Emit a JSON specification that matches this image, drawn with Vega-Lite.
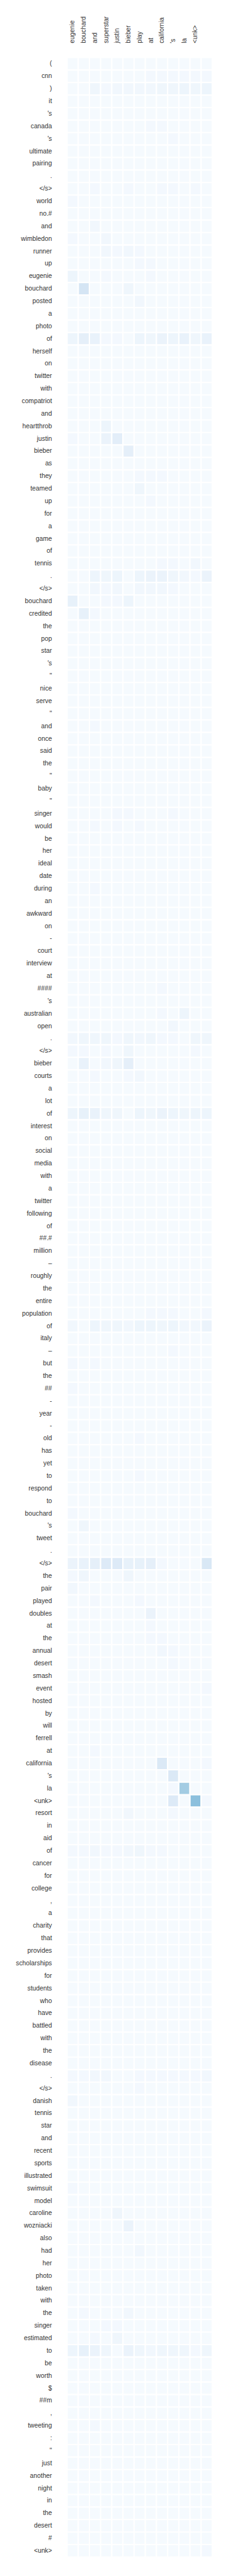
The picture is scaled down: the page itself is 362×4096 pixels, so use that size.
{
"$schema":"https://vega.github.io/schema/vega-lite/v6.json",
"width":230.6,"height":3974.4,
"autosize":{"type":"none"},
"padding":{"left":106.5,"top":91.5,"right":25,"bottom":30},
"background":"white",
"config":{"view":{"stroke":null},"axis":{"labelFont":"Liberation Sans","labelFontSize":10.3,"labelColor":"#333333","ticks":false,"domain":false,"grid":false,"title":null}},
"datasets":{
"cols":[{"key":"a","tok":"eugenie","ci":1},{"key":"b","tok":"bouchard","ci":2},{"key":"c","tok":"and","ci":3},{"key":"d","tok":"superstar","ci":4},{"key":"e","tok":"justin","ci":5},{"key":"f","tok":"bieber","ci":6},{"key":"g","tok":"play","ci":7},{"key":"h","tok":"at","ci":8},{"key":"i","tok":"california","ci":9},{"key":"j","tok":"'s","ci":10},{"key":"k","tok":"la","ci":11},{"key":"l","tok":"<unk>","ci":12},{"key":"m","tok":"","ci":13}],
"rows":[
{"lab":"001 (","a":1,"b":1,"c":1,"d":1,"e":1,"f":1,"g":1,"h":1,"i":1,"j":1,"k":1,"l":1,"m":1},
{"lab":"002 cnn","a":1,"b":1,"c":1,"d":1,"e":1,"f":1,"g":1,"h":2,"i":2,"j":2,"k":2,"l":2,"m":2},
{"lab":"003 )","a":1,"b":1,"c":4,"d":2,"e":3,"f":3,"g":3,"h":3,"i":4,"j":4,"k":5,"l":4,"m":5},
{"lab":"004 it","a":1,"b":1,"c":1,"d":1,"e":1,"f":1,"g":1,"h":1,"i":1,"j":1,"k":1,"l":1,"m":1},
{"lab":"005 's","a":1,"b":1,"c":1,"d":1,"e":1,"f":1,"g":1,"h":1,"i":1,"j":1,"k":1,"l":1,"m":1},
{"lab":"006 canada","a":1,"b":1,"c":1,"d":1,"e":1,"f":1,"g":1,"h":2,"i":2,"j":1,"k":1,"l":1,"m":1},
{"lab":"007 's","a":1,"b":1,"c":1,"d":1,"e":1,"f":1,"g":1,"h":1,"i":1,"j":2,"k":1,"l":1,"m":1},
{"lab":"008 ultimate","a":1,"b":1,"c":1,"d":1,"e":1,"f":1,"g":1,"h":1,"i":1,"j":1,"k":1,"l":1,"m":1},
{"lab":"009 pairing","a":1,"b":1,"c":1,"d":1,"e":1,"f":1,"g":1,"h":1,"i":1,"j":1,"k":1,"l":1,"m":1},
{"lab":"010 .","a":1,"b":1,"c":1,"d":1,"e":1,"f":1,"g":1,"h":1,"i":1,"j":1,"k":1,"l":1,"m":1},
{"lab":"011 </s>","a":1,"b":1,"c":2,"d":1,"e":1,"f":2,"g":1,"h":1,"i":2,"j":2,"k":1,"l":2,"m":1},
{"lab":"012 world","a":2,"b":1,"c":1,"d":1,"e":1,"f":1,"g":1,"h":1,"i":1,"j":1,"k":1,"l":1,"m":1},
{"lab":"013 no.#","a":1,"b":1,"c":1,"d":1,"e":1,"f":1,"g":1,"h":1,"i":1,"j":1,"k":1,"l":1,"m":1},
{"lab":"014 and","a":1,"b":1,"c":3,"d":1,"e":1,"f":1,"g":1,"h":1,"i":1,"j":1,"k":1,"l":1,"m":1},
{"lab":"015 wimbledon","a":2,"b":1,"c":1,"d":3,"e":1,"f":1,"g":1,"h":1,"i":1,"j":1,"k":1,"l":1,"m":1},
{"lab":"016 runner","a":1,"b":1,"c":1,"d":3,"e":2,"f":3,"g":2,"h":1,"i":1,"j":1,"k":1,"l":1,"m":1},
{"lab":"017 up","a":1,"b":1,"c":1,"d":1,"e":1,"f":1,"g":2,"h":2,"i":1,"j":1,"k":1,"l":1,"m":1},
{"lab":"018 eugenie","a":5,"b":1,"c":1,"d":2,"e":1,"f":1,"g":1,"h":2,"i":1,"j":1,"k":1,"l":1,"m":1},
{"lab":"019 bouchard","a":1,"b":17,"c":1,"d":1,"e":1,"f":4,"g":1,"h":1,"i":1,"j":1,"k":1,"l":1,"m":1},
{"lab":"020 posted","a":1,"b":1,"c":1,"d":1,"e":1,"f":1,"g":3,"h":1,"i":1,"j":1,"k":1,"l":1,"m":1},
{"lab":"021 a","a":1,"b":1,"c":1,"d":1,"e":1,"f":1,"g":1,"h":1,"i":1,"j":1,"k":1,"l":1,"m":1},
{"lab":"022 photo","a":1,"b":1,"c":1,"d":1,"e":1,"f":1,"g":1,"h":1,"i":1,"j":1,"k":1,"l":1,"m":1},
{"lab":"023 of","a":5,"b":9,"c":7,"d":2,"e":2,"f":1,"g":5,"h":4,"i":6,"j":5,"k":7,"l":4,"m":7},
{"lab":"024 herself","a":1,"b":1,"c":1,"d":1,"e":1,"f":1,"g":1,"h":1,"i":1,"j":1,"k":1,"l":1,"m":1},
{"lab":"025 on","a":1,"b":1,"c":1,"d":1,"e":1,"f":1,"g":1,"h":1,"i":1,"j":1,"k":1,"l":1,"m":1},
{"lab":"026 twitter","a":1,"b":1,"c":1,"d":1,"e":1,"f":1,"g":1,"h":1,"i":1,"j":1,"k":1,"l":1,"m":1},
{"lab":"027 with","a":1,"b":1,"c":1,"d":1,"e":1,"f":1,"g":1,"h":1,"i":1,"j":1,"k":1,"l":1,"m":1},
{"lab":"028 compatriot","a":1,"b":1,"c":1,"d":1,"e":1,"f":1,"g":1,"h":1,"i":1,"j":1,"k":1,"l":1,"m":1},
{"lab":"029 and","a":1,"b":1,"c":1,"d":1,"e":1,"f":1,"g":1,"h":1,"i":1,"j":1,"k":1,"l":1,"m":1},
{"lab":"030 heartthrob","a":1,"b":1,"c":1,"d":5,"e":1,"f":1,"g":1,"h":1,"i":1,"j":1,"k":1,"l":1,"m":1},
{"lab":"031 justin","a":2,"b":1,"c":1,"d":6,"e":10,"f":1,"g":1,"h":1,"i":1,"j":1,"k":1,"l":1,"m":1},
{"lab":"032 bieber","a":1,"b":1,"c":1,"d":1,"e":1,"f":9,"g":1,"h":1,"i":1,"j":1,"k":1,"l":1,"m":1},
{"lab":"033 as","a":1,"b":1,"c":1,"d":1,"e":1,"f":1,"g":1,"h":1,"i":1,"j":1,"k":1,"l":1,"m":1},
{"lab":"034 they","a":1,"b":1,"c":1,"d":1,"e":1,"f":1,"g":2,"h":2,"i":2,"j":1,"k":1,"l":1,"m":1},
{"lab":"035 teamed","a":1,"b":1,"c":1,"d":1,"e":1,"f":1,"g":4,"h":1,"i":1,"j":1,"k":1,"l":1,"m":1},
{"lab":"036 up","a":1,"b":1,"c":1,"d":1,"e":1,"f":1,"g":1,"h":2,"i":1,"j":1,"k":1,"l":1,"m":1},
{"lab":"037 for","a":1,"b":1,"c":1,"d":1,"e":1,"f":1,"g":1,"h":1,"i":1,"j":1,"k":1,"l":1,"m":1},
{"lab":"038 a","a":1,"b":1,"c":1,"d":1,"e":1,"f":1,"g":1,"h":1,"i":1,"j":1,"k":1,"l":1,"m":1},
{"lab":"039 game","a":1,"b":1,"c":1,"d":1,"e":1,"f":1,"g":1,"h":1,"i":1,"j":1,"k":1,"l":1,"m":1},
{"lab":"040 of","a":1,"b":1,"c":1,"d":1,"e":1,"f":1,"g":1,"h":1,"i":1,"j":1,"k":1,"l":1,"m":1},
{"lab":"041 tennis","a":1,"b":1,"c":1,"d":1,"e":1,"f":1,"g":1,"h":1,"i":2,"j":2,"k":1,"l":3,"m":1},
{"lab":"042 .","a":1,"b":1,"c":5,"d":4,"e":5,"f":1,"g":5,"h":6,"i":6,"j":4,"k":3,"l":2,"m":6},
{"lab":"043 </s>","a":1,"b":1,"c":3,"d":2,"e":3,"f":1,"g":3,"h":3,"i":3,"j":2,"k":1,"l":1,"m":1},
{"lab":"044 bouchard","a":8,"b":1,"c":1,"d":2,"e":2,"f":5,"g":1,"h":1,"i":1,"j":1,"k":1,"l":1,"m":1},
{"lab":"045 credited","a":1,"b":8,"c":2,"d":1,"e":1,"f":1,"g":1,"h":1,"i":1,"j":1,"k":1,"l":1,"m":1},
{"lab":"046 the","a":1,"b":1,"c":1,"d":1,"e":1,"f":1,"g":1,"h":1,"i":1,"j":1,"k":1,"l":1,"m":1},
{"lab":"047 pop","a":1,"b":1,"c":1,"d":1,"e":1,"f":1,"g":1,"h":1,"i":1,"j":1,"k":1,"l":1,"m":1},
{"lab":"048 star","a":1,"b":1,"c":1,"d":1,"e":1,"f":1,"g":1,"h":1,"i":1,"j":1,"k":1,"l":1,"m":1},
{"lab":"049 's","a":1,"b":1,"c":1,"d":1,"e":1,"f":1,"g":1,"h":1,"i":1,"j":1,"k":1,"l":1,"m":1},
{"lab":"050 \"","a":1,"b":1,"c":1,"d":1,"e":1,"f":1,"g":1,"h":1,"i":1,"j":1,"k":1,"l":1,"m":1},
{"lab":"051 nice","a":1,"b":1,"c":1,"d":1,"e":1,"f":1,"g":1,"h":1,"i":1,"j":1,"k":1,"l":1,"m":1},
{"lab":"052 serve","a":1,"b":1,"c":1,"d":1,"e":1,"f":1,"g":1,"h":1,"i":1,"j":1,"k":1,"l":1,"m":1},
{"lab":"053 \"","a":1,"b":1,"c":1,"d":1,"e":1,"f":1,"g":1,"h":1,"i":1,"j":1,"k":1,"l":1,"m":1},
{"lab":"054 and","a":1,"b":1,"c":2,"d":1,"e":1,"f":1,"g":1,"h":1,"i":1,"j":1,"k":1,"l":1,"m":1},
{"lab":"055 once","a":1,"b":1,"c":1,"d":1,"e":1,"f":1,"g":1,"h":1,"i":1,"j":1,"k":1,"l":1,"m":1},
{"lab":"056 said","a":1,"b":1,"c":1,"d":1,"e":1,"f":1,"g":1,"h":1,"i":1,"j":1,"k":1,"l":1,"m":1},
{"lab":"057 the","a":1,"b":1,"c":1,"d":1,"e":1,"f":1,"g":1,"h":1,"i":1,"j":1,"k":1,"l":1,"m":1},
{"lab":"058 \"","a":1,"b":1,"c":1,"d":1,"e":1,"f":1,"g":1,"h":1,"i":1,"j":1,"k":1,"l":1,"m":1},
{"lab":"059 baby","a":1,"b":1,"c":1,"d":1,"e":1,"f":1,"g":1,"h":1,"i":1,"j":1,"k":1,"l":1,"m":1},
{"lab":"060 \"","a":1,"b":1,"c":1,"d":1,"e":1,"f":1,"g":1,"h":1,"i":1,"j":1,"k":1,"l":1,"m":1},
{"lab":"061 singer","a":1,"b":1,"c":1,"d":1,"e":2,"f":2,"g":1,"h":1,"i":1,"j":2,"k":1,"l":1,"m":1},
{"lab":"062 would","a":1,"b":1,"c":2,"d":1,"e":2,"f":1,"g":2,"h":1,"i":1,"j":1,"k":1,"l":1,"m":1},
{"lab":"063 be","a":1,"b":1,"c":1,"d":1,"e":1,"f":1,"g":1,"h":1,"i":1,"j":1,"k":1,"l":1,"m":1},
{"lab":"064 her","a":1,"b":1,"c":1,"d":1,"e":1,"f":1,"g":1,"h":1,"i":1,"j":1,"k":1,"l":1,"m":1},
{"lab":"065 ideal","a":1,"b":1,"c":1,"d":1,"e":1,"f":1,"g":1,"h":1,"i":1,"j":1,"k":1,"l":1,"m":1},
{"lab":"066 date","a":1,"b":1,"c":1,"d":1,"e":1,"f":1,"g":1,"h":1,"i":1,"j":1,"k":1,"l":1,"m":1},
{"lab":"067 during","a":1,"b":1,"c":2,"d":1,"e":1,"f":1,"g":1,"h":1,"i":1,"j":1,"k":1,"l":1,"m":1},
{"lab":"068 an","a":1,"b":1,"c":1,"d":1,"e":1,"f":1,"g":1,"h":1,"i":1,"j":1,"k":1,"l":1,"m":1},
{"lab":"069 awkward","a":1,"b":1,"c":1,"d":1,"e":1,"f":1,"g":1,"h":1,"i":1,"j":1,"k":1,"l":1,"m":1},
{"lab":"070 on","a":1,"b":1,"c":1,"d":1,"e":1,"f":1,"g":1,"h":1,"i":1,"j":1,"k":1,"l":1,"m":1},
{"lab":"071 -","a":1,"b":1,"c":1,"d":1,"e":1,"f":1,"g":1,"h":1,"i":1,"j":1,"k":1,"l":1,"m":1},
{"lab":"072 court","a":1,"b":1,"c":1,"d":1,"e":1,"f":1,"g":1,"h":1,"i":1,"j":1,"k":1,"l":1,"m":1},
{"lab":"073 interview","a":1,"b":1,"c":1,"d":1,"e":1,"f":1,"g":1,"h":1,"i":1,"j":1,"k":1,"l":1,"m":1},
{"lab":"074 at","a":1,"b":1,"c":1,"d":1,"e":1,"f":1,"g":1,"h":1,"i":1,"j":1,"k":1,"l":1,"m":1},
{"lab":"075 ####","a":1,"b":1,"c":1,"d":1,"e":1,"f":1,"g":1,"h":1,"i":2,"j":1,"k":1,"l":1,"m":1},
{"lab":"076 's","a":1,"b":1,"c":1,"d":1,"e":1,"f":1,"g":1,"h":1,"i":1,"j":1,"k":1,"l":1,"m":1},
{"lab":"077 australian","a":1,"b":1,"c":1,"d":1,"e":1,"f":1,"g":1,"h":1,"i":2,"j":1,"k":5,"l":1,"m":1},
{"lab":"078 open","a":1,"b":1,"c":1,"d":1,"e":1,"f":1,"g":1,"h":1,"i":1,"j":3,"k":1,"l":1,"m":1},
{"lab":"079 .","a":3,"b":4,"c":4,"d":4,"e":2,"f":4,"g":3,"h":4,"i":2,"j":2,"k":1,"l":4,"m":4},
{"lab":"080 </s>","a":2,"b":2,"c":1,"d":2,"e":1,"f":4,"g":1,"h":1,"i":1,"j":1,"k":1,"l":2,"m":1},
{"lab":"081 bieber","a":1,"b":7,"c":1,"d":3,"e":4,"f":9,"g":1,"h":1,"i":1,"j":1,"k":1,"l":1,"m":1},
{"lab":"082 courts","a":1,"b":1,"c":2,"d":1,"e":1,"f":2,"g":3,"h":1,"i":1,"j":1,"k":1,"l":1,"m":1},
{"lab":"083 a","a":1,"b":1,"c":1,"d":1,"e":1,"f":1,"g":1,"h":1,"i":1,"j":1,"k":1,"l":1,"m":1},
{"lab":"084 lot","a":1,"b":1,"c":1,"d":1,"e":1,"f":1,"g":1,"h":1,"i":1,"j":1,"k":1,"l":1,"m":1},
{"lab":"085 of","a":5,"b":8,"c":7,"d":4,"e":4,"f":1,"g":5,"h":4,"i":6,"j":5,"k":4,"l":5,"m":5},
{"lab":"086 interest","a":1,"b":1,"c":1,"d":1,"e":1,"f":1,"g":1,"h":1,"i":1,"j":1,"k":1,"l":1,"m":1},
{"lab":"087 on","a":1,"b":1,"c":1,"d":1,"e":1,"f":1,"g":1,"h":1,"i":1,"j":1,"k":1,"l":1,"m":1},
{"lab":"088 social","a":1,"b":1,"c":1,"d":1,"e":1,"f":1,"g":1,"h":1,"i":1,"j":1,"k":1,"l":1,"m":1},
{"lab":"089 media","a":1,"b":1,"c":1,"d":1,"e":1,"f":1,"g":1,"h":1,"i":1,"j":1,"k":1,"l":1,"m":1},
{"lab":"090 with","a":1,"b":1,"c":1,"d":1,"e":1,"f":1,"g":1,"h":1,"i":1,"j":1,"k":1,"l":1,"m":1},
{"lab":"091 a","a":1,"b":1,"c":1,"d":1,"e":1,"f":1,"g":1,"h":1,"i":1,"j":1,"k":1,"l":1,"m":1},
{"lab":"092 twitter","a":1,"b":1,"c":1,"d":1,"e":1,"f":1,"g":1,"h":1,"i":1,"j":1,"k":1,"l":1,"m":1},
{"lab":"093 following","a":1,"b":1,"c":1,"d":1,"e":1,"f":1,"g":1,"h":1,"i":1,"j":1,"k":1,"l":1,"m":1},
{"lab":"094 of","a":1,"b":1,"c":1,"d":1,"e":1,"f":1,"g":1,"h":1,"i":1,"j":1,"k":1,"l":1,"m":1},
{"lab":"095 ##.#","a":1,"b":1,"c":1,"d":1,"e":1,"f":1,"g":1,"h":1,"i":1,"j":1,"k":1,"l":1,"m":1},
{"lab":"096 million","a":1,"b":1,"c":1,"d":1,"e":1,"f":1,"g":1,"h":1,"i":1,"j":1,"k":1,"l":1,"m":1},
{"lab":"097 –","a":1,"b":1,"c":1,"d":1,"e":1,"f":1,"g":1,"h":1,"i":1,"j":1,"k":1,"l":1,"m":1},
{"lab":"098 roughly","a":1,"b":1,"c":1,"d":1,"e":1,"f":1,"g":1,"h":1,"i":1,"j":1,"k":1,"l":1,"m":1},
{"lab":"099 the","a":1,"b":1,"c":1,"d":1,"e":1,"f":1,"g":1,"h":1,"i":1,"j":1,"k":1,"l":1,"m":1},
{"lab":"100 entire","a":1,"b":1,"c":1,"d":1,"e":1,"f":1,"g":1,"h":1,"i":1,"j":1,"k":1,"l":1,"m":1},
{"lab":"101 population","a":1,"b":1,"c":1,"d":1,"e":1,"f":1,"g":1,"h":2,"i":2,"j":2,"k":1,"l":1,"m":2},
{"lab":"102 of","a":3,"b":1,"c":5,"d":4,"e":4,"f":3,"g":5,"h":5,"i":4,"j":5,"k":3,"l":3,"m":6},
{"lab":"103 italy","a":1,"b":1,"c":1,"d":1,"e":1,"f":1,"g":1,"h":1,"i":1,"j":1,"k":1,"l":1,"m":1},
{"lab":"104 –","a":1,"b":1,"c":1,"d":1,"e":1,"f":1,"g":1,"h":1,"i":1,"j":2,"k":1,"l":1,"m":1},
{"lab":"105 but","a":2,"b":1,"c":2,"d":1,"e":1,"f":1,"g":1,"h":1,"i":1,"j":1,"k":1,"l":1,"m":1},
{"lab":"106 the","a":1,"b":1,"c":1,"d":1,"e":1,"f":1,"g":1,"h":1,"i":1,"j":1,"k":1,"l":1,"m":1},
{"lab":"107 ##","a":2,"b":1,"c":1,"d":1,"e":1,"f":1,"g":1,"h":1,"i":1,"j":1,"k":1,"l":1,"m":1},
{"lab":"108 -","a":1,"b":1,"c":1,"d":1,"e":1,"f":1,"g":1,"h":1,"i":1,"j":1,"k":1,"l":1,"m":1},
{"lab":"109 year","a":1,"b":1,"c":1,"d":1,"e":1,"f":1,"g":1,"h":1,"i":1,"j":1,"k":1,"l":1,"m":1},
{"lab":"110 -","a":1,"b":1,"c":1,"d":1,"e":1,"f":1,"g":1,"h":1,"i":1,"j":1,"k":1,"l":1,"m":1},
{"lab":"111 old","a":1,"b":1,"c":1,"d":1,"e":1,"f":1,"g":2,"h":1,"i":1,"j":1,"k":1,"l":1,"m":1},
{"lab":"112 has","a":1,"b":1,"c":1,"d":1,"e":1,"f":1,"g":1,"h":1,"i":1,"j":1,"k":1,"l":1,"m":1},
{"lab":"113 yet","a":1,"b":1,"c":1,"d":1,"e":1,"f":1,"g":1,"h":1,"i":1,"j":1,"k":1,"l":1,"m":1},
{"lab":"114 to","a":1,"b":1,"c":1,"d":1,"e":1,"f":1,"g":2,"h":1,"i":1,"j":1,"k":1,"l":1,"m":1},
{"lab":"115 respond","a":1,"b":1,"c":1,"d":1,"e":1,"f":1,"g":1,"h":1,"i":1,"j":1,"k":1,"l":1,"m":1},
{"lab":"116 to","a":1,"b":1,"c":1,"d":1,"e":1,"f":1,"g":1,"h":1,"i":1,"j":1,"k":1,"l":1,"m":1},
{"lab":"117 bouchard","a":2,"b":1,"c":1,"d":1,"e":1,"f":1,"g":1,"h":1,"i":1,"j":1,"k":1,"l":1,"m":1},
{"lab":"118 's","a":1,"b":4,"c":1,"d":1,"e":1,"f":1,"g":1,"h":1,"i":1,"j":1,"k":1,"l":1,"m":1},
{"lab":"119 tweet","a":1,"b":1,"c":1,"d":1,"e":1,"f":1,"g":1,"h":1,"i":1,"j":1,"k":1,"l":1,"m":1},
{"lab":"120 .","a":1,"b":1,"c":1,"d":1,"e":1,"f":1,"g":1,"h":1,"i":1,"j":1,"k":1,"l":1,"m":1},
{"lab":"121 </s>","a":6,"b":7,"c":9,"d":13,"e":13,"f":8,"g":8,"h":9,"i":2,"j":1,"k":1,"l":1,"m":15},
{"lab":"122 the","a":2,"b":4,"c":1,"d":1,"e":1,"f":4,"g":1,"h":1,"i":1,"j":1,"k":1,"l":1,"m":1},
{"lab":"123 pair","a":3,"b":1,"c":1,"d":1,"e":1,"f":1,"g":1,"h":1,"i":1,"j":1,"k":1,"l":1,"m":1},
{"lab":"124 played","a":1,"b":1,"c":2,"d":1,"e":1,"f":1,"g":2,"h":1,"i":1,"j":1,"k":1,"l":1,"m":1},
{"lab":"125 doubles","a":1,"b":1,"c":1,"d":1,"e":1,"f":1,"g":1,"h":6,"i":1,"j":1,"k":1,"l":1,"m":1},
{"lab":"126 at","a":1,"b":1,"c":1,"d":1,"e":1,"f":1,"g":1,"h":2,"i":1,"j":1,"k":1,"l":1,"m":1},
{"lab":"127 the","a":1,"b":1,"c":1,"d":1,"e":1,"f":1,"g":1,"h":2,"i":2,"j":1,"k":1,"l":1,"m":1},
{"lab":"128 annual","a":1,"b":1,"c":1,"d":1,"e":1,"f":1,"g":1,"h":1,"i":3,"j":2,"k":1,"l":1,"m":1},
{"lab":"129 desert","a":1,"b":1,"c":1,"d":1,"e":1,"f":1,"g":1,"h":1,"i":1,"j":2,"k":1,"l":1,"m":1},
{"lab":"130 smash","a":1,"b":1,"c":1,"d":1,"e":1,"f":1,"g":1,"h":1,"i":1,"j":1,"k":1,"l":1,"m":1},
{"lab":"131 event","a":1,"b":1,"c":1,"d":1,"e":1,"f":1,"g":1,"h":1,"i":1,"j":1,"k":1,"l":1,"m":2},
{"lab":"132 hosted","a":1,"b":1,"c":1,"d":1,"e":1,"f":1,"g":1,"h":1,"i":1,"j":1,"k":1,"l":1,"m":1},
{"lab":"133 by","a":1,"b":1,"c":1,"d":1,"e":1,"f":1,"g":1,"h":1,"i":1,"j":1,"k":1,"l":1,"m":1},
{"lab":"134 will","a":1,"b":1,"c":1,"d":1,"e":1,"f":1,"g":1,"h":1,"i":1,"j":1,"k":1,"l":1,"m":1},
{"lab":"135 ferrell","a":1,"b":1,"c":1,"d":1,"e":1,"f":1,"g":1,"h":1,"i":1,"j":1,"k":1,"l":1,"m":1},
{"lab":"136 at","a":1,"b":1,"c":2,"d":1,"e":1,"f":1,"g":1,"h":1,"i":1,"j":1,"k":1,"l":1,"m":1},
{"lab":"137 california","a":1,"b":1,"c":1,"d":1,"e":1,"f":1,"g":1,"h":1,"i":14,"j":1,"k":1,"l":1,"m":2},
{"lab":"138 's","a":1,"b":1,"c":1,"d":1,"e":1,"f":1,"g":1,"h":1,"i":1,"j":14,"k":1,"l":1,"m":1},
{"lab":"139 la","a":1,"b":1,"c":1,"d":1,"e":1,"f":1,"g":1,"h":1,"i":1,"j":2,"k":36,"l":1,"m":1},
{"lab":"140 <unk>","a":1,"b":1,"c":1,"d":1,"e":1,"f":1,"g":1,"h":1,"i":1,"j":13,"k":1,"l":42,"m":2},
{"lab":"141 resort","a":1,"b":1,"c":1,"d":1,"e":1,"f":3,"g":1,"h":1,"i":1,"j":2,"k":1,"l":1,"m":1},
{"lab":"142 in","a":1,"b":1,"c":1,"d":1,"e":1,"f":1,"g":1,"h":1,"i":1,"j":1,"k":1,"l":1,"m":1},
{"lab":"143 aid","a":1,"b":1,"c":1,"d":1,"e":1,"f":1,"g":1,"h":1,"i":1,"j":1,"k":1,"l":1,"m":1},
{"lab":"144 of","a":2,"b":2,"c":3,"d":2,"e":2,"f":3,"g":4,"h":2,"i":2,"j":1,"k":1,"l":1,"m":1},
{"lab":"145 cancer","a":1,"b":1,"c":1,"d":1,"e":1,"f":1,"g":1,"h":1,"i":1,"j":1,"k":1,"l":1,"m":1},
{"lab":"146 for","a":1,"b":1,"c":1,"d":1,"e":1,"f":1,"g":1,"h":1,"i":1,"j":1,"k":1,"l":1,"m":1},
{"lab":"147 college","a":1,"b":1,"c":1,"d":1,"e":1,"f":1,"g":1,"h":1,"i":1,"j":1,"k":1,"l":1,"m":1},
{"lab":"148 ,","a":1,"b":1,"c":1,"d":1,"e":1,"f":1,"g":1,"h":1,"i":1,"j":1,"k":1,"l":1,"m":1},
{"lab":"149 a","a":1,"b":1,"c":1,"d":1,"e":1,"f":1,"g":1,"h":1,"i":1,"j":1,"k":1,"l":1,"m":1},
{"lab":"150 charity","a":1,"b":1,"c":1,"d":1,"e":1,"f":1,"g":1,"h":1,"i":1,"j":1,"k":1,"l":1,"m":1},
{"lab":"151 that","a":1,"b":1,"c":1,"d":1,"e":1,"f":1,"g":1,"h":1,"i":1,"j":1,"k":1,"l":1,"m":1},
{"lab":"152 provides","a":1,"b":1,"c":1,"d":1,"e":1,"f":1,"g":1,"h":1,"i":1,"j":1,"k":1,"l":1,"m":1},
{"lab":"153 scholarships","a":1,"b":1,"c":1,"d":1,"e":1,"f":1,"g":1,"h":1,"i":1,"j":1,"k":1,"l":1,"m":1},
{"lab":"154 for","a":1,"b":1,"c":1,"d":1,"e":1,"f":1,"g":1,"h":1,"i":1,"j":1,"k":1,"l":1,"m":1},
{"lab":"155 students","a":1,"b":1,"c":1,"d":1,"e":1,"f":1,"g":1,"h":1,"i":1,"j":1,"k":1,"l":1,"m":1},
{"lab":"156 who","a":1,"b":1,"c":1,"d":1,"e":1,"f":1,"g":1,"h":1,"i":1,"j":1,"k":1,"l":1,"m":1},
{"lab":"157 have","a":1,"b":1,"c":1,"d":1,"e":1,"f":1,"g":1,"h":1,"i":1,"j":1,"k":1,"l":1,"m":1},
{"lab":"158 battled","a":1,"b":1,"c":1,"d":1,"e":1,"f":1,"g":1,"h":1,"i":1,"j":1,"k":1,"l":1,"m":1},
{"lab":"159 with","a":1,"b":1,"c":1,"d":1,"e":1,"f":1,"g":1,"h":1,"i":1,"j":1,"k":1,"l":1,"m":1},
{"lab":"160 the","a":1,"b":1,"c":1,"d":1,"e":1,"f":1,"g":1,"h":1,"i":1,"j":1,"k":1,"l":1,"m":1},
{"lab":"161 disease","a":1,"b":1,"c":1,"d":1,"e":1,"f":1,"g":1,"h":1,"i":1,"j":1,"k":1,"l":1,"m":1},
{"lab":"162 .","a":2,"b":2,"c":3,"d":3,"e":1,"f":1,"g":2,"h":2,"i":2,"j":2,"k":2,"l":2,"m":3},
{"lab":"163 </s>","a":1,"b":1,"c":1,"d":1,"e":1,"f":1,"g":2,"h":1,"i":1,"j":1,"k":1,"l":1,"m":1},
{"lab":"164 danish","a":3,"b":1,"c":1,"d":1,"e":1,"f":1,"g":1,"h":1,"i":1,"j":1,"k":1,"l":1,"m":1},
{"lab":"165 tennis","a":1,"b":1,"c":1,"d":1,"e":1,"f":1,"g":1,"h":1,"i":1,"j":1,"k":1,"l":1,"m":1},
{"lab":"166 star","a":1,"b":1,"c":1,"d":1,"e":1,"f":1,"g":1,"h":1,"i":1,"j":1,"k":1,"l":1,"m":1},
{"lab":"167 and","a":1,"b":1,"c":1,"d":1,"e":1,"f":1,"g":1,"h":1,"i":1,"j":1,"k":1,"l":1,"m":1},
{"lab":"168 recent","a":1,"b":1,"c":1,"d":1,"e":1,"f":1,"g":1,"h":1,"i":1,"j":1,"k":1,"l":1,"m":1},
{"lab":"169 sports","a":1,"b":1,"c":1,"d":1,"e":1,"f":1,"g":1,"h":1,"i":1,"j":1,"k":1,"l":1,"m":1},
{"lab":"170 illustrated","a":1,"b":1,"c":1,"d":1,"e":1,"f":1,"g":1,"h":1,"i":1,"j":1,"k":1,"l":1,"m":1},
{"lab":"171 swimsuit","a":2,"b":1,"c":1,"d":1,"e":1,"f":1,"g":1,"h":1,"i":1,"j":1,"k":1,"l":1,"m":1},
{"lab":"172 model","a":1,"b":1,"c":1,"d":1,"e":1,"f":1,"g":1,"h":1,"i":1,"j":1,"k":1,"l":1,"m":1},
{"lab":"173 caroline","a":1,"b":1,"c":1,"d":1,"e":4,"f":1,"g":1,"h":1,"i":1,"j":1,"k":1,"l":1,"m":1},
{"lab":"174 wozniacki","a":1,"b":1,"c":1,"d":1,"e":1,"f":6,"g":1,"h":1,"i":1,"j":1,"k":1,"l":1,"m":1},
{"lab":"175 also","a":1,"b":1,"c":1,"d":1,"e":1,"f":1,"g":1,"h":1,"i":1,"j":1,"k":1,"l":1,"m":1},
{"lab":"176 had","a":1,"b":1,"c":1,"d":1,"e":1,"f":1,"g":3,"h":1,"i":1,"j":1,"k":1,"l":1,"m":1},
{"lab":"177 her","a":1,"b":1,"c":1,"d":1,"e":1,"f":1,"g":1,"h":1,"i":1,"j":1,"k":1,"l":1,"m":1},
{"lab":"178 photo","a":1,"b":1,"c":1,"d":1,"e":1,"f":1,"g":1,"h":1,"i":1,"j":1,"k":1,"l":1,"m":1},
{"lab":"179 taken","a":1,"b":1,"c":1,"d":1,"e":1,"f":1,"g":1,"h":1,"i":1,"j":1,"k":1,"l":1,"m":1},
{"lab":"180 with","a":1,"b":1,"c":1,"d":1,"e":1,"f":1,"g":1,"h":1,"i":1,"j":1,"k":1,"l":1,"m":1},
{"lab":"181 the","a":1,"b":2,"c":1,"d":1,"e":1,"f":3,"g":1,"h":1,"i":1,"j":1,"k":1,"l":1,"m":1},
{"lab":"182 singer","a":1,"b":1,"c":1,"d":2,"e":2,"f":1,"g":1,"h":1,"i":1,"j":1,"k":1,"l":1,"m":1},
{"lab":"183 estimated","a":1,"b":1,"c":2,"d":1,"e":4,"f":1,"g":1,"h":1,"i":1,"j":1,"k":1,"l":1,"m":1},
{"lab":"184 to","a":5,"b":8,"c":6,"d":4,"e":1,"f":6,"g":4,"h":3,"i":4,"j":4,"k":4,"l":2,"m":4},
{"lab":"185 be","a":1,"b":1,"c":1,"d":1,"e":1,"f":1,"g":1,"h":1,"i":1,"j":1,"k":1,"l":1,"m":1},
{"lab":"186 worth","a":1,"b":1,"c":1,"d":1,"e":1,"f":1,"g":1,"h":1,"i":1,"j":1,"k":1,"l":1,"m":1},
{"lab":"187 $","a":1,"b":1,"c":1,"d":1,"e":1,"f":1,"g":1,"h":1,"i":1,"j":1,"k":1,"l":1,"m":1},
{"lab":"188 ##m","a":1,"b":1,"c":1,"d":1,"e":1,"f":1,"g":1,"h":1,"i":1,"j":1,"k":1,"l":1,"m":1},
{"lab":"189 ,","a":1,"b":1,"c":1,"d":1,"e":1,"f":1,"g":1,"h":1,"i":1,"j":1,"k":1,"l":1,"m":1},
{"lab":"190 tweeting","a":1,"b":1,"c":2,"d":1,"e":1,"f":1,"g":1,"h":1,"i":1,"j":1,"k":1,"l":1,"m":1},
{"lab":"191 :","a":1,"b":1,"c":1,"d":1,"e":1,"f":1,"g":1,"h":1,"i":1,"j":1,"k":1,"l":1,"m":1},
{"lab":"192 \"","a":1,"b":1,"c":1,"d":1,"e":1,"f":1,"g":1,"h":1,"i":1,"j":1,"k":1,"l":1,"m":1},
{"lab":"193 just","a":1,"b":1,"c":1,"d":1,"e":1,"f":1,"g":1,"h":1,"i":1,"j":1,"k":1,"l":1,"m":1},
{"lab":"194 another","a":1,"b":1,"c":1,"d":1,"e":1,"f":1,"g":1,"h":1,"i":1,"j":1,"k":1,"l":1,"m":1},
{"lab":"195 night","a":1,"b":1,"c":1,"d":1,"e":1,"f":1,"g":1,"h":1,"i":1,"j":1,"k":1,"l":1,"m":1},
{"lab":"196 in","a":1,"b":1,"c":1,"d":1,"e":1,"f":1,"g":1,"h":1,"i":1,"j":1,"k":1,"l":1,"m":1},
{"lab":"197 the","a":1,"b":1,"c":1,"d":1,"e":1,"f":1,"g":1,"h":1,"i":1,"j":1,"k":1,"l":1,"m":1},
{"lab":"198 desert","a":1,"b":1,"c":1,"d":1,"e":1,"f":1,"g":1,"h":1,"i":1,"j":1,"k":1,"l":1,"m":1},
{"lab":"199 #","a":1,"b":1,"c":1,"d":1,"e":1,"f":1,"g":1,"h":1,"i":1,"j":1,"k":1,"l":1,"m":1},
{"lab":"200 <unk>","a":1,"b":1,"c":1,"d":1,"e":1,"f":1,"g":1,"h":1,"i":1,"j":1,"k":1,"l":1,"m":2}
]},
"data":{"name":"rows"},
"transform":[
{"fold":["a","b","c","d","e","f","g","h","i","j","k","l","m"],"as":["key","w"]},
{"lookup":"key","from":{"data":{"name":"cols"},"key":"key","fields":["tok","ci"]}}
],
"mark":{"type":"rect","stroke":"white","strokeWidth":2.1},
"encoding":{
"x":{"field":"tok","type":"nominal","sort":{"field":"ci","op":"min"},"scale":{"paddingInner":0,"paddingOuter":0},"axis":{"orient":"top","labelAngle":-90,"labelPadding":23.2}},
"y":{"field":"lab","type":"nominal","sort":"ascending","scale":{"paddingInner":0,"paddingOuter":0},"axis":{"labelExpr":"substring(datum.value,4)","labelPadding":24.5}},
"color":{"field":"w","type":"quantitative","scale":{"domain":[0,12.5,25,37.5,50,62.5,75,87.5,100],"range":["#f7fbff","#deebf7","#c6dbef","#9ecae1","#6baed6","#4292c6","#2171b5","#08519c","#08306b"]},"legend":null}
}
}
